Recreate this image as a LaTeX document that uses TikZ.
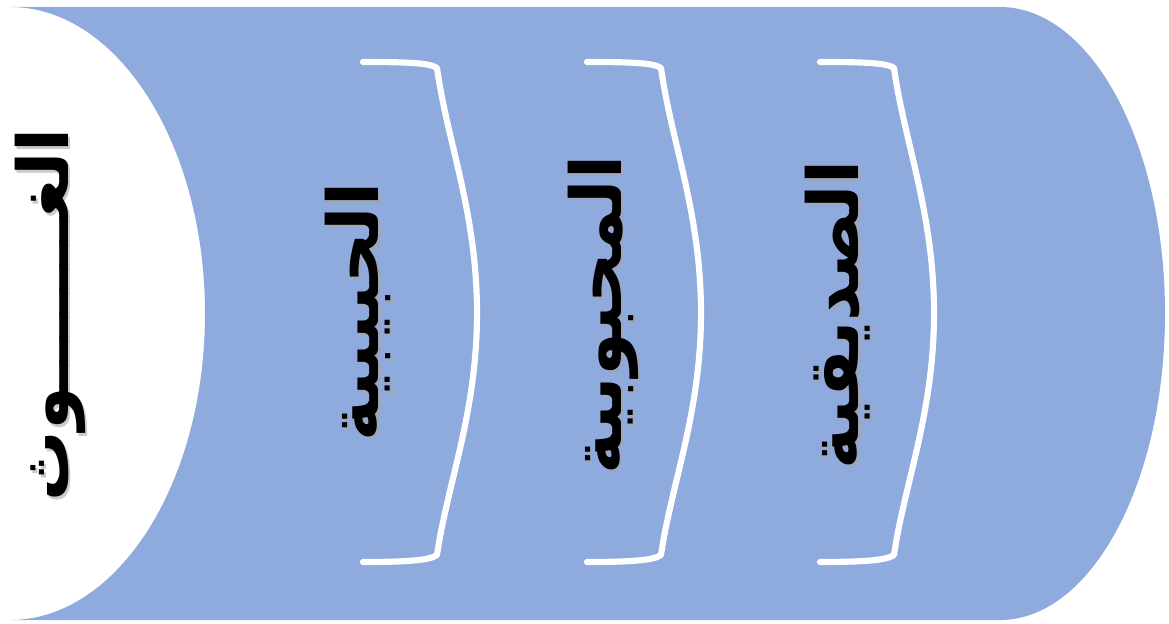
\documentclass[tikz,border=0pt]{standalone}
\usepackage{fontspec}
\newfontfamily\arabicfont[Script=Arabic]{DejaVu Sans}
\TeXXeTstate=1
\usetikzlibrary{positioning}

\definecolor{bandblue}{RGB}{143,170,220}

\begin{document}
\begin{tikzpicture}[
    band/.style={fill=bandblue},
    brace/.style={draw=white, line width=3.5pt, line join=round, line cap=round},
    station/.style={rotate=90, inner sep=0pt, font=\arabicfont\bfseries\fontsize{40}{48}\selectfont},
    shade/.style={station, text=black!35, opacity=.6}
  ]
  \useasboundingbox (0,0) rectangle (23.38,12.46);
  % blue band, rounded at the right, hollow at the left
  \fill[band] (0.2,12.32) -- (20,12.32)
    arc[start angle=90, end angle=-90, x radius=3.3, y radius=6.13]
    -- (0.2,0.06)
    arc[start angle=-90, end angle=90, x radius=3.9, y radius=6.13] -- cycle;
  % white brackets
  \foreach \dx in {0,4.48,9.14} {
    \begin{scope}[xshift=\dx cm]
    \draw[brace] (7.26,11.22) .. controls (8.2,11.22) and (8.6,11.2) .. (8.74,11.1)
      .. controls (8.95,9.6) and (9.54,8.2) .. (9.54,6.2)
      .. controls (9.54,4.2) and (8.95,2.8) .. (8.74,1.36)
      .. controls (8.6,1.26) and (8.2,1.22) .. (7.26,1.22);
    \end{scope}
  }
  % shadows of the texts
  \node[shade] (ghawthS) at (1.05,6.11) {\beginR الغـــــــوث\endR};
  \node[shade] (habibS) at (7.21,6.17) {\beginR الحبيبية\endR};
  \node[shade] (mahbubS) at (12.11,6.11) {\beginR المحبوبية\endR};
  \node[shade] (siddiqS) at (16.81,6.11) {\beginR الصديقية\endR};
  % texts
  \node[station] (ghawth) at (1.0,6.16) {\beginR الغـــــــوث\endR};
  \node[station] (habib) at (7.16,6.22) {\beginR الحبيبية\endR};
  \node[station] (mahbub) at (12.06,6.16) {\beginR المحبوبية\endR};
  \node[station] (siddiq) at (16.76,6.16) {\beginR الصديقية\endR};
\end{tikzpicture}
\end{document}
